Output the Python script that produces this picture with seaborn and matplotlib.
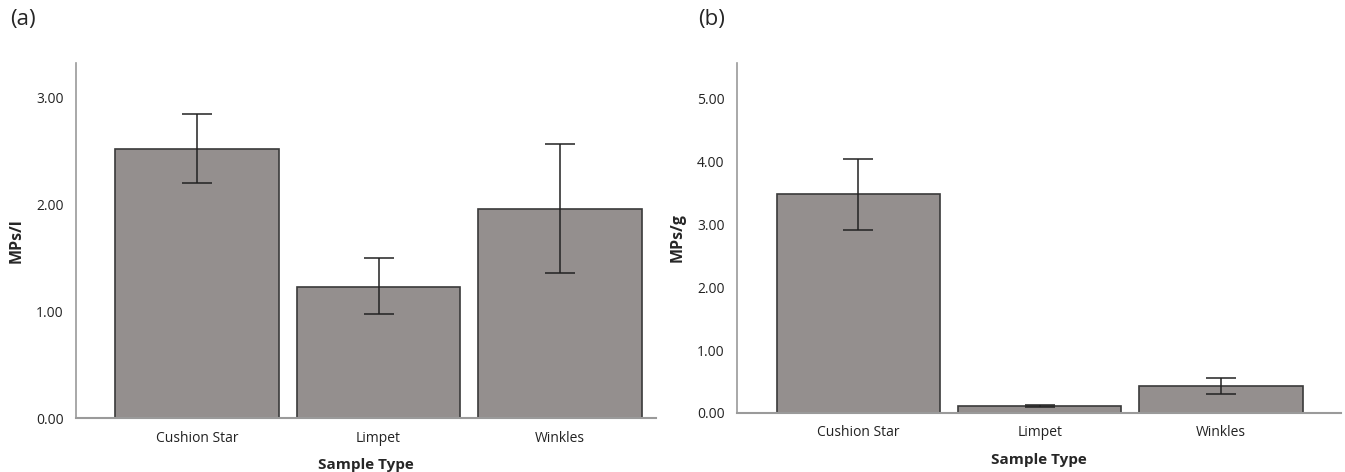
import pandas as pd
import matplotlib.pyplot as plt
import seaborn as sns

sns.set_style("white")
plt.rcParams['font.family'] = ['Open Sans', 'DejaVu Sans']

# data
sample_types = ["Cushion Star", "Limpet", "Winkles"]
mps_per_l = [2.52, 1.23, 1.96]
mps_per_l_low = [2.20, 0.97, 1.36]
mps_per_l_high = [2.85, 1.50, 2.565]
mps_per_g = [3.47, 0.11, 0.43]
mps_per_g_low = [2.90, 0.09, 0.30]
mps_per_g_high = [4.04, 0.13, 0.56]

bar_color = "#948f8e"
edge_color = "#3a3a3a"
axis_color = "#9a9a9a"

fig = plt.figure(figsize=(13.45, 4.72), dpi=100)
ax_a = fig.add_axes([76/1345, 54/472, 580/1345, 355/472])
ax_b = fig.add_axes([737/1345, 59/472, 604/1345, 350/472])


def draw_panel(ax, vals, low, high, ylabel, ylim, yticks, xlim):
    df = pd.DataFrame({"Sample Type": sample_types, "val": vals})
    sns.barplot(data=df, x="Sample Type", y="val", ax=ax, color=bar_color,
                saturation=1, width=0.9, edgecolor=edge_color, linewidth=1.2,
                errorbar=None)
    yerr = [[v - l for v, l in zip(vals, low)], [h - v for v, h in zip(vals, high)]]
    ax.errorbar(range(len(vals)), vals, yerr=yerr, fmt="none", ecolor="#222222",
                elinewidth=1.1, capsize=11, capthick=1.1)
    ax.set_xlim(*xlim)
    ax.set_ylim(*ylim)
    ax.set_yticks(yticks)
    ax.set_yticklabels([f"{t:.2f}" for t in yticks], fontsize=10, color="#222222")
    ax.tick_params(axis="x", length=0, labelsize=10, colors="#222222", pad=9)
    ax.tick_params(axis="y", length=5, width=1, color=axis_color, pad=4)
    for s in ["top", "right"]:
        ax.spines[s].set_visible(False)
    ax.spines["left"].set_color(axis_color)
    ax.spines["bottom"].set_color(axis_color)
    ax.spines["left"].set_linewidth(1.2)
    ax.spines["bottom"].set_linewidth(1.5)
    ax.set_ylabel(ylabel, fontsize=11.5, fontweight="bold", labelpad=8)
    ax.set_xlabel("Sample Type", fontsize=11, fontweight="bold", labelpad=9)


draw_panel(ax_a, mps_per_l, mps_per_l_low, mps_per_l_high, "MPs/l",
           (0, 3.327), [0, 1, 2, 3], (-0.667, 2.529))
draw_panel(ax_b, mps_per_g, mps_per_g_low, mps_per_g_high, "MPs/g",
           (0, 5.556), [0, 1, 2, 3, 4, 5], (-0.67, 2.662))

fig.text(10/1345, 1 - 19/472, "(a)", fontsize=16, va="center", ha="left")
fig.text(698/1345, 1 - 19/472, "(b)", fontsize=16, va="center", ha="left")

fig.savefig("out.png", dpi=100)
